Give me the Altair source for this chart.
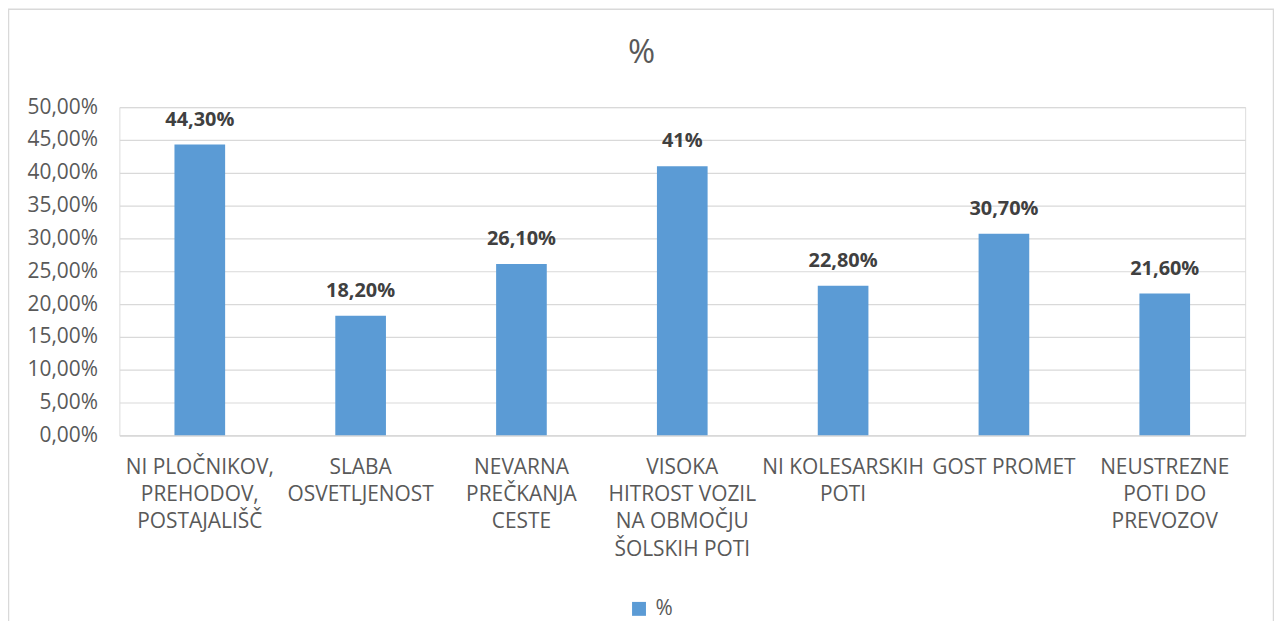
import altair as alt
import pandas as pd

categories = [
    "NI PLOČNIKOV,|PREHODOV,|POSTAJALIŠČ",
    "SLABA|OSVETLJENOST",
    "NEVARNA|PREČKANJA|CESTE",
    "VISOKA|HITROST VOZIL|NA OBMOČJU|ŠOLSKIH POTI",
    "NI KOLESARSKIH|POTI",
    "GOST PROMET",
    "NEUSTREZNE|POTI DO|PREVOZOV",
]
values = [0.443, 0.182, 0.261, 0.41, 0.228, 0.307, 0.216]
value_labels = ["44,30%", "18,20%", "26,10%", "41%", "22,80%", "30,70%", "21,60%"]
series_name = "%"
y_ticks = [0, 0.05, 0.10, 0.15, 0.20, 0.25, 0.30, 0.35, 0.40, 0.45, 0.50]

df = pd.DataFrame({
    "cat": categories,
    "val": values,
    "lab": value_labels,
    "series": [series_name] * len(categories),
})

FONT = "Open Sans"
GRAY = "#595959"
W, H = 1132, 330

xenc = alt.X(
    "cat:N", sort=None, title=None,
    scale=alt.Scale(paddingInner=0.685, paddingOuter=0.3425),
    axis=alt.Axis(
        labelAngle=0, ticks=False, domainColor="#D9D9D9", domainWidth=1.5,
        labelExpr="split(datum.label, '|')", labelLineHeight=27.5,
        labelFont=FONT, labelFontSize=21, labelColor=GRAY, labelPadding=21,
        labelOverlap=False, labelBound=False, labelLimit=400, grid=False,
    ),
)
yenc = alt.Y(
    "val:Q", title=None,
    scale=alt.Scale(domain=[0, 0.5], nice=False),
    axis=alt.Axis(
        values=y_ticks, tickCount=40, domain=False, ticks=False, tickSize=0,
        gridColor="#D9D9D9", gridWidth=1.2,
        labelExpr="replace(format(datum.value, '.2%'), '.', ',')",
        labelFont=FONT, labelFontSize=21, labelColor=GRAY, labelPadding=22,
        labelOverlap=False, labelBound=False,
    ),
)

base = alt.Chart(df)

bars = base.mark_bar(color="#5B9BD5").encode(
    x=xenc, y=yenc,
    color=alt.Color(
        "series:N", title=None,
        scale=alt.Scale(range=["#5B9BD5"]),
        legend=alt.Legend(
            orient="none", legendX=512, legendY=494, padding=0,
            symbolType="square", symbolSize=196, symbolStrokeWidth=0,
            symbolOpacity=1,
            labelFont=FONT, labelFontSize=21, labelColor=GRAY, labelOffset=6,
        ),
    ),
)

texts = base.mark_text(
    font=FONT, fontSize=20, fontWeight="bold", color="#404040",
    baseline="alphabetic", dy=-19,
).encode(x=xenc, y=yenc, text="lab:N")

title_df = pd.DataFrame({"t": ["%"]})
title = alt.Chart(title_df).mark_text(
    font=FONT, fontSize=33, color=GRAY, baseline="alphabetic", align="center",
).encode(x=alt.value(525), y=alt.value(-44), text="t:N")

border = alt.Chart(title_df).mark_rect(
    fill=None, stroke="#D9D9D9", strokeWidth=1.5,
).encode(
    x=alt.value(-111.5), x2=alt.value(1160.5),
    y=alt.value(-98.5), y2=alt.value(700),
)

chart = alt.layer(border, bars, texts, title).properties(
    width=W, height=H,
    autosize=alt.AutoSizeParams(type="none"),
    padding={"left": 112, "top": 98, "right": 29, "bottom": 185},
).configure_view(stroke=None).configure(background="white")

chart.save("out.html", embed_options={"renderer": "svg", "actions": False})
